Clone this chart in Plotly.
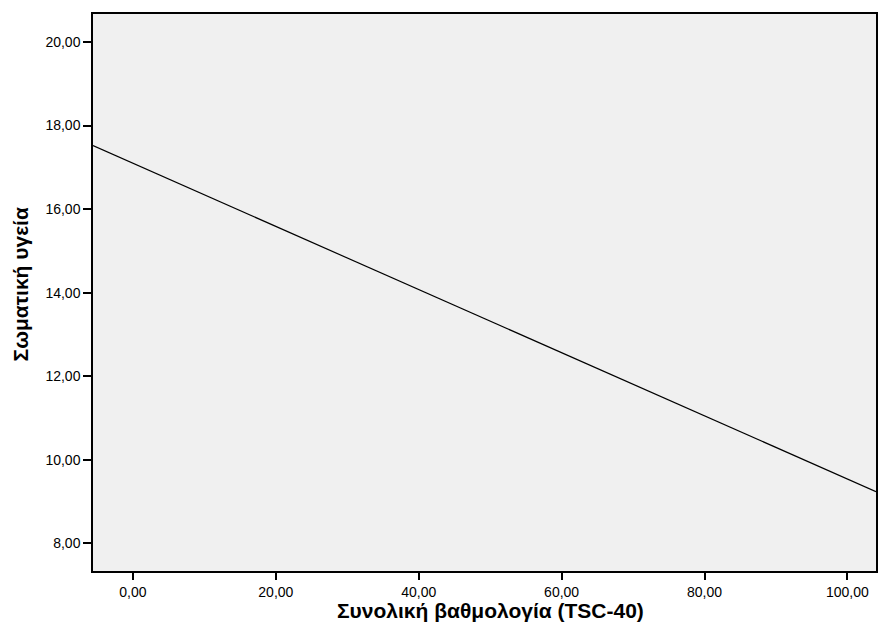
import plotly.graph_objects as go

# Regression line endpoints
x_vals = [-5.59, 104.0]
y_vals = [17.52, 9.24]

x_ticks = [0, 20, 40, 60, 80, 100]
y_ticks = [8, 10, 12, 14, 16, 18, 20]

x_title = "Συνολική βαθμολογία (TSC-40)"
y_title = "Σωματική υγεία"

fig = go.Figure()
fig.add_trace(go.Scatter(x=x_vals, y=y_vals, mode="lines",
                         line=dict(color="black", width=1.2),
                         showlegend=False, hoverinfo="skip"))

font_family = "Liberation Sans, Arial, sans-serif"
fig.update_layout(
    width=878, height=627,
    margin=dict(l=93, r=0, t=14, b=56),
    paper_bgcolor="white",
    plot_bgcolor="#f0f0f0",
    separators=",.",
    font=dict(family=font_family, size=14, color="black"),
)
fig.update_xaxes(
    range=[-5.59, 104.0], tickvals=x_ticks, tickformat=".2f",
    showgrid=False, zeroline=False,
    showline=True, linecolor="black", linewidth=1.5, mirror=True,
    ticks="outside", ticklen=7, tickwidth=2, tickcolor="black",
    tickfont=dict(size=14),
)
fig.update_yaxes(
    range=[7.34, 20.67], tickvals=y_ticks, tickformat=".2f",
    showgrid=False, zeroline=False,
    showline=True, linecolor="black", linewidth=1.5, mirror=True,
    ticks="outside", ticklen=8, tickwidth=2, tickcolor="black",
    tickfont=dict(size=14),
)
fig.add_annotation(text="<b>" + x_title + "</b>", xref="paper", yref="paper",
                   x=0.508, y=0, yshift=-39, xanchor="center", yanchor="middle",
                   showarrow=False, font=dict(size=21))
fig.add_annotation(text="<b>" + y_title + "</b>", xref="paper", yref="paper",
                   x=0, y=0.51, xshift=-72.5, yshift=2, xanchor="center", yanchor="middle",
                   textangle=-90, showarrow=False, font=dict(size=21))

fig.write_html("out.html",
               config={"displayModeBar": False},
               post_script="document.body.style.margin='0';document.body.style.overflow='hidden';")
